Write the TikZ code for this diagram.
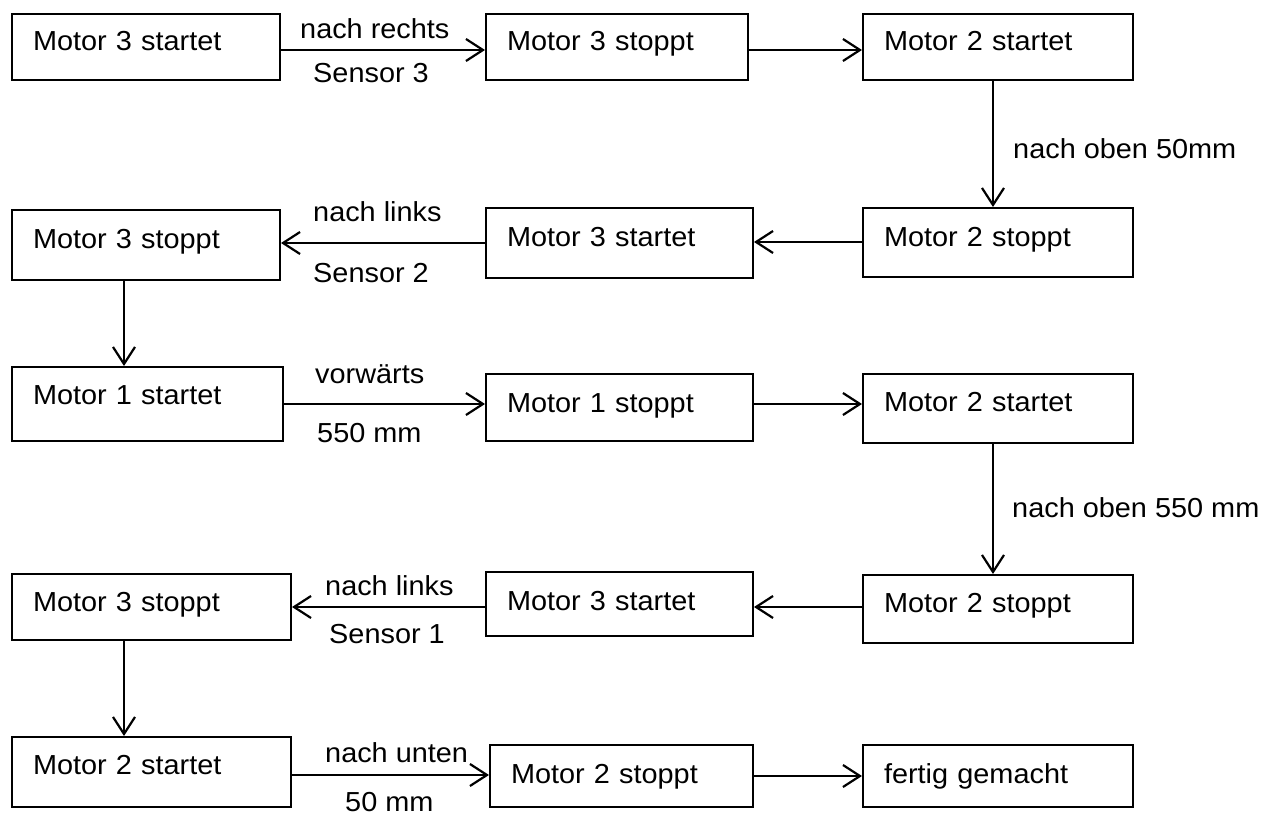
\documentclass[tikz,border=0pt]{standalone}
\usepackage{fontspec}
\setmainfont[FakeStretch=1.05]{Liberation Sans}
\usetikzlibrary{arrows.meta}
\newcommand{\flowfont}{\fontsize{27.5pt}{30pt}\selectfont}
\tikzset{
  box/.style n args={3}{draw, line width=2pt, anchor=north west,
    inner xsep=21pt, inner ysep=0pt, align=left, font=\flowfont,
    text width=#1, text height=#2, text depth=#3},
  arr/.style={line width=2.3pt, -{Straight Barb[length=17pt,width=22pt,line width=2.2pt]}},
  lbl/.style={anchor=base west, inner sep=0pt, font=\flowfont}
}
\begin{document}
\begin{tikzpicture}[x=1pt,y=-1pt]
\useasboundingbox (0,0) rectangle (1278,816);

% row 1
\node[box={226pt}{37pt}{29pt}] (a) at (11,13)  {Motor 3 startet};
\node[box={220pt}{37pt}{29pt}] (b) at (485,13) {Motor 3 stoppt};
\node[box={228pt}{37pt}{29pt}] (c) at (862,13) {Motor 2 startet};
% row 2
\node[box={226pt}{38pt}{32pt}] (d) at (11,209)  {Motor 3 stoppt};
\node[box={225pt}{38pt}{32pt}] (e) at (485,207) {Motor 3 startet};
\node[box={228pt}{38pt}{31pt}] (f) at (862,207) {Motor 2 stoppt};
% row 3
\node[box={229pt}{37pt}{37pt}] (g) at (11,366)  {Motor 1 startet};
\node[box={225pt}{38pt}{29pt}] (h) at (485,373) {Motor 1 stoppt};
\node[box={228pt}{37pt}{32pt}] (i) at (862,373) {Motor 2 startet};
% row 4
\node[box={237pt}{37pt}{29pt}] (k) at (11,573)  {Motor 3 stoppt};
\node[box={225pt}{38pt}{26pt}] (l) at (485,571) {Motor 3 startet};
\node[box={228pt}{37pt}{31pt}] (j) at (862,574) {Motor 2 stoppt};
% row 5
\node[box={237pt}{37pt}{33pt}] (m) at (11,736)  {Motor 2 startet};
\node[box={221pt}{38pt}{24pt}] (n) at (489,744) {Motor 2 stoppt};
\node[box={228pt}{38pt}{24pt}] (o) at (862,744) {fertig gemacht};

% connectors
\draw[arr] ([yshift=-3pt]a.east) -- ([yshift=-3pt]a.east -| b.west);
\draw[arr] ([yshift=-3pt]b.east) -- ([yshift=-3pt]b.east -| c.west);
\draw[arr] ([xshift=-5pt]c.south) -- ([xshift=-5pt]c.south |- f.north);
\draw[arr] ([yshift=0.5pt]f.west) -- ([yshift=0.5pt]f.west -| e.east);
\draw[arr] (e.west) -- (e.west -| d.east);
\draw[arr] ([xshift=113pt]d.south west) -- ([xshift=113pt]d.south west |- g.north);
\draw[arr] (g.east) -- (g.east -| h.west);
\draw[arr] ([yshift=3.5pt]h.east) -- ([yshift=3.5pt]h.east -| i.west);
\draw[arr] ([xshift=-5pt]i.south) -- ([xshift=-5pt]i.south |- j.north);
\draw[arr] ([yshift=2pt]j.west) -- ([yshift=2pt]j.west -| l.east);
\draw[arr] ([yshift=-3pt]l.west) -- ([yshift=-3pt]l.west -| k.east);
\draw[arr] ([xshift=113pt]k.south west) -- ([xshift=113pt]k.south west |- m.north);
\draw[arr] ([yshift=-3pt]m.east) -- ([yshift=-3pt]m.east -| n.west);
\draw[arr] (n.east) -- (n.east -| o.west);

% connector labels
\node[lbl] (l1)  at (300,39)   {nach rechts};
\node[lbl] (l2)  at (313,83)   {Sensor 3};
\node[lbl] (l3)  at (1013,158) {nach oben 50mm};
\node[lbl] (l4)  at (313,221)  {nach links};
\node[lbl] (l5)  at (313,282)  {Sensor 2};
\node[lbl] (l6)  at (315,383)  {vorwärts};
\node[lbl] (l7)  at (317,442)  {550 mm};
\node[lbl] (l8)  at (1012,517) {nach oben 550 mm};
\node[lbl] (l9)  at (325,595)  {nach links};
\node[lbl] (l10) at (329,643)  {Sensor 1};
\node[lbl] (l11) at (325,762)  {nach unten};
\node[lbl] (l12) at (345,811)  {50 mm};
\end{tikzpicture}
\end{document}
